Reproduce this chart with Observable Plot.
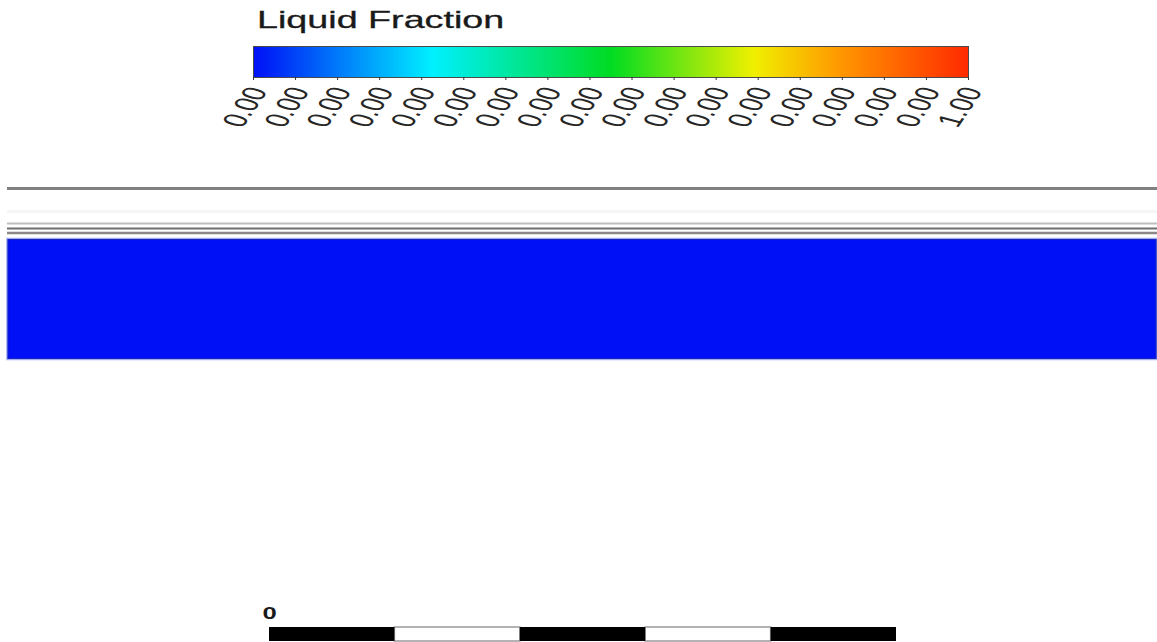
<!DOCTYPE html>
<html>
<head>
<meta charset="utf-8">
<script src="https://cdn.jsdelivr.net/npm/d3@7"></script>
<script src="https://cdn.jsdelivr.net/npm/@observablehq/plot@0.6"></script>
<style>
  html, body { margin: 0; padding: 0; background: #fff; }
  #fig { position: relative; width: 1157px; height: 642px; overflow: hidden; background: #fff; }
  #fig > svg { position: absolute; left: 0; overflow: visible; }
</style>
</head>
<body>
<div id="fig"></div>
<script>
// ---- legend ----
const legendTitle = "Liquid Fraction";
const tickLabels = [
  "0.00", "0.00", "0.00", "0.00", "0.00", "0.00", "0.00", "0.00", "0.00",
  "0.00", "0.00", "0.00", "0.00", "0.00", "0.00", "0.00", "0.00", "1.00"
];
// rainbow colormap stops (liquid fraction -> colour)
const colorStops = [0, 0.25, 0.5, 0.7, 0.82, 1];
const stopColors = ["#0010f6", "#00f0ff", "#00dc22", "#f0f000", "#ff9800", "#ff2a00"];

// ---- domain geometry (mm) ----
const fieldLength = 1150;
const wallLines = [182, 159, 147, 142, 137.5];
const meltBand = [{ bottom: 10.5, top: 131.5, fraction: 0 }];

// ---- scale bar ----
const scaleBarSegments = [0, 1, 2, 3, 4];
const scaleBarLabel = "0";

const FONT = '"Liberation Sans", Arial, sans-serif';
const STRETCH = 1.6; // horizontal stretch of the solver's text
const fig = document.getElementById("fig");
const color = { type: "linear", domain: colorStops, range: stopColors, interpolate: "rgb" };

// Colour bar with sheared tick labels
const tickPos = tickLabels.map((_, i) => i / (tickLabels.length - 1));
const legend = Plot.plot({
  width: 1157, height: 140,
  marginLeft: 253, marginRight: 189, marginTop: 46, marginBottom: 63,
  style: { fontFamily: FONT, background: "transparent" },
  x: { domain: [0, 1] },
  y: { domain: [0, 1], axis: null },
  color,
  marks: [
    Plot.raster({ x1: 0, x2: 1, y1: 0, y2: 1, width: 715, height: 1, fill: (x, y) => x, imageRendering: "auto" }),
    Plot.frame({ stroke: "#4a4a4a", strokeWidth: 1 }),
    Plot.axisX(tickPos, { tickSize: 3, stroke: "#333", tickFormat: () => "" }),
    Plot.text(tickPos, {
      x: d => d, y: 0, text: (d, i) => tickLabels[i],
      fontSize: 21, fill: "#262626", textAnchor: "end"
    })
  ]
});
legend.style.top = "0px";
fig.appendChild(legend);

// place and shear the tick labels
{
  const xs = legend.scale("x");
  const g = legend.querySelector('g[aria-label="text"]');
  if (g) {
    g.removeAttribute("transform");
    g.querySelectorAll("text").forEach((t, i) => {
      const px = xs.apply(tickPos[i]);
      t.removeAttribute("dy");
      t.removeAttribute("x");
      t.removeAttribute("y");
      t.setAttribute("text-anchor", "end");
      t.setAttribute("transform", `translate(${px + 15},91) scale(${STRETCH},1) rotate(-67)`);
    });
  }
  d3.select(legend).append("text")
    .attr("transform", `translate(257,28) scale(1.64,1)`)
    .attr("text-anchor", "start")
    .attr("font-family", FONT)
    .attr("font-size", 23)
    .attr("fill", "#1a1a1a")
    .attr("stroke", "#1a1a1a")
    .attr("stroke-width", 0.3)
    .text(legendTitle);
}

// Contour field: walls and the solid (fraction 0) band
const wallStyles = [
  { stroke: "#808080", width: 3 },
  { stroke: "#f5f5f5", width: 3 },
  { stroke: "#bdbdbd", width: 2 },
  { stroke: "#6f6f6f", width: 2 },
  { stroke: "#8c8888", width: 2.5 }
];
const field = Plot.plot({
  width: 1157, height: 200,
  marginLeft: 7, marginRight: 0, marginTop: 0, marginBottom: 0,
  style: { fontFamily: FONT, background: "transparent" },
  x: { domain: [0, fieldLength], axis: null },
  y: { domain: [0, 200], axis: null },
  color,
  marks: [
    Plot.rect(meltBand, { x1: 0, x2: fieldLength, y1: "bottom", y2: "top", fill: "fraction", stroke: "#9fb0f0", strokeWidth: 1.5 }),
    Plot.rect(meltBand, { x1: 0, x2: fieldLength, y1: "bottom", y2: "top", fill: "fraction", inset: 1, stroke: "#1a22c0", strokeWidth: 1 }),
    ...wallLines.map((y, i) => Plot.ruleY([y], { x1: 0, x2: fieldLength, stroke: wallStyles[i].stroke, strokeWidth: wallStyles[i].width }))
  ]
});
field.style.top = "170px";
fig.appendChild(field);

// Scale bar
const bar = Plot.plot({
  width: 1157, height: 42,
  marginLeft: 269, marginRight: 261, marginTop: 27, marginBottom: 1,
  style: { fontFamily: FONT, background: "transparent" },
  x: { domain: [0, scaleBarSegments.length], axis: null },
  y: { domain: [0, 1], axis: null },
  marks: [
    Plot.rect(scaleBarSegments, { filter: d => d % 2 === 1, x1: d => d, x2: d => d + 1, y1: 0, y2: 1, fill: "#fff", stroke: "#9a9a9a", strokeWidth: 1.5 }),
    Plot.rect(scaleBarSegments, { filter: d => d % 2 === 0, x1: d => d, x2: d => d + 1, y1: 0, y2: 1, fill: "#000" }),
    Plot.text([scaleBarLabel], { x: 0, y: 1, dy: -14, text: d => d, fontSize: 16, fill: "#1a1a1a", fontWeight: "bold" })
  ]
});
bar.style.top = "600px";
fig.appendChild(bar);
bar.querySelectorAll('g[aria-label="text"] text').forEach(t => {
  const tr = t.getAttribute("transform") || "";
  t.setAttribute("transform", `${tr} scale(${STRETCH},1)`);
});
</script>
</body>
</html>
